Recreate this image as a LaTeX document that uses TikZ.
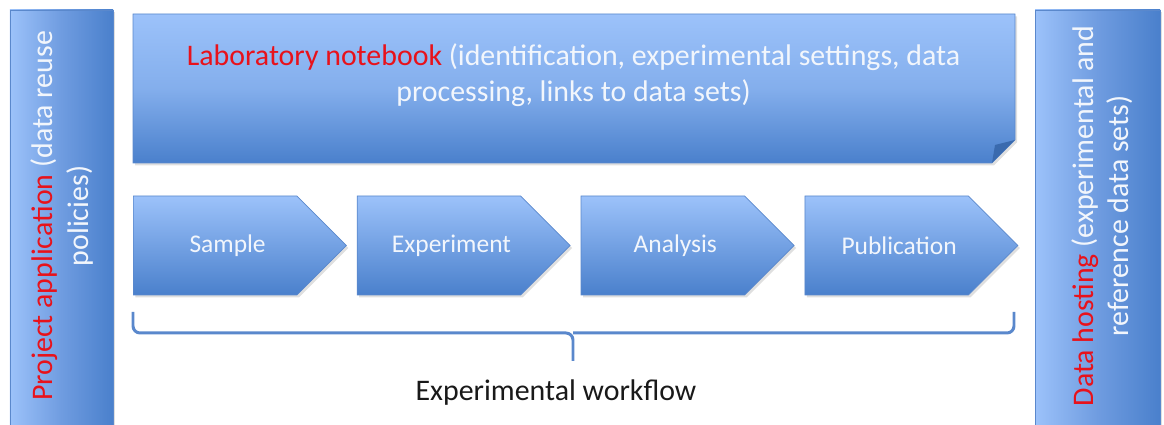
\documentclass[tikz,border=0pt]{standalone}
\usepackage{fontspec}
\setmainfont{Carlito}
\usetikzlibrary{positioning,shapes.symbols,shadows}

\definecolor{lightblue}{HTML}{9CC2FA}
\definecolor{midblue}{HTML}{6F9CE0}
\definecolor{darkblue}{HTML}{4A80CC}
\definecolor{edgeblue}{HTML}{5A88CC}
\definecolor{foldblue}{HTML}{3A6AAE}
\definecolor{textwhite}{HTML}{F2F6FC}
\definecolor{hotred}{HTML}{E8121B}

\tikzset{
  softshadow/.style={drop shadow={shadow xshift=0.04cm, shadow yshift=-0.05cm, opacity=0.25}},
  sidebar/.style={rectangle, draw=edgeblue, thin, left color=lightblue, right color=darkblue,
    middle color=midblue, softshadow, minimum width=#1, minimum height=8.5cm, inner sep=0pt},
  stepchev/.style={signal, signal to=east, signal from=nowhere, signal pointer angle=90,
    draw=edgeblue, thin, top color=lightblue, bottom color=darkblue, softshadow,
    minimum width=4.26cm, minimum height=1.98cm, inner sep=0pt,
    text=textwhite, font=\fontsize{14.5}{17}\selectfont,
    execute at begin node=\hspace*{0.5cm}},
  sidetext/.style={rotate=90, align=center, text=textwhite, font=\fontsize{17}{20}\selectfont},
  bracket/.style={draw=edgeblue, line width=1.7pt, rounded corners=4pt},
}

\begin{document}
\begin{tikzpicture}
    \useasboundingbox (0,0) rectangle (23.28,8.5);

    % side bars
    \node[sidebar=2.06cm] (proj) at (1.23,4.05) {};
    \node[sidetext] (projtext) at (1.24,4.18)
        {\textcolor{hotred}{Project application} (data reuse\\policies)};
    \node[sidebar=2.5cm] (host) at (21.95,4.05) {};
    \node[sidetext] (hosttext) at (22.04,4.18)
        {\textcolor{hotred}{Data hosting} (experimental and\\reference data sets)};

    % notebook with folded corner
    \path[draw=edgeblue, thin, top color=lightblue, bottom color=darkblue, middle color=lightblue!70!darkblue, softshadow]
        (2.66,8.22) -- (20.3,8.22) -- (20.3,5.7) -- (19.84,5.24) -- (2.66,5.24) -- cycle;
    \fill[foldblue] (20.3,5.7) -- (19.84,5.24) -- (19.9,5.6) -- cycle;
    \node[align=center, text=textwhite, font=\fontsize{17}{20.4}\selectfont] (note) at (11.47,7.0)
        {\textcolor{hotred}{Laboratory notebook} (identification, experimental settings, data\\
         processing, links to data sets)};

    % workflow steps
    \node[stepchev, anchor=west] (sample) at (2.66,3.59) {Sample};
    \node[stepchev, right=0.2cm of sample] (experiment) {Experiment};
    \node[stepchev, right=0.2cm of experiment] (analysis) {Analysis};
    \node[stepchev, right=0.2cm of analysis] (publication) {Publication};

    % brace under the steps
    \coordinate (bl) at (2.66,2.26);
    \coordinate (br) at (20.28,2.26);
    \coordinate (bm) at (11.46,1.84);
    \coordinate (btip) at (11.46,1.28);
    \draw[bracket] (bl) |- (bm) -- (btip);
    \draw[bracket] (br) |- (bm);

    \node[font=\fontsize{17}{20}\selectfont, text=black!90] (flow) at (11.12,0.64) {Experimental workflow};
\end{tikzpicture}
\end{document}
